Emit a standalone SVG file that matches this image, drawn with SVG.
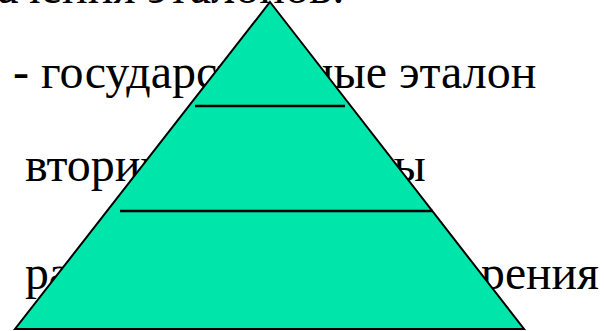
<svg xmlns="http://www.w3.org/2000/svg" width="604" height="331" viewBox="0 0 604 331">
<style>
text{font-family:'Liberation Serif','Times New Roman',serif;font-size:48px;fill:#000}
.ln{stroke:#000;stroke-width:2.5;fill:none}
</style>
<rect width="604" height="331" fill="#fff"/>
<g id="texts">
<text x="345" y="3" text-anchor="end">Назначения эталонов:</text>
<text x="13" y="88">- государственные эталон</text>
<text x="25" y="181">вторичные эталоны</text>
<text x="25" y="289" textLength="574" lengthAdjust="spacingAndGlyphs">рабочие средства измерения</text>
</g>
<g id="pyramid">
<polygon points="270,2 524,329 15,329" fill="#00E6AA" stroke="#000" stroke-width="2"/>
</g>
<g id="connectors">
<line class="ln" x1="195" y1="106" x2="345" y2="106"/>
<line class="ln" x1="120" y1="211" x2="433" y2="211"/>
</g>
</svg>
